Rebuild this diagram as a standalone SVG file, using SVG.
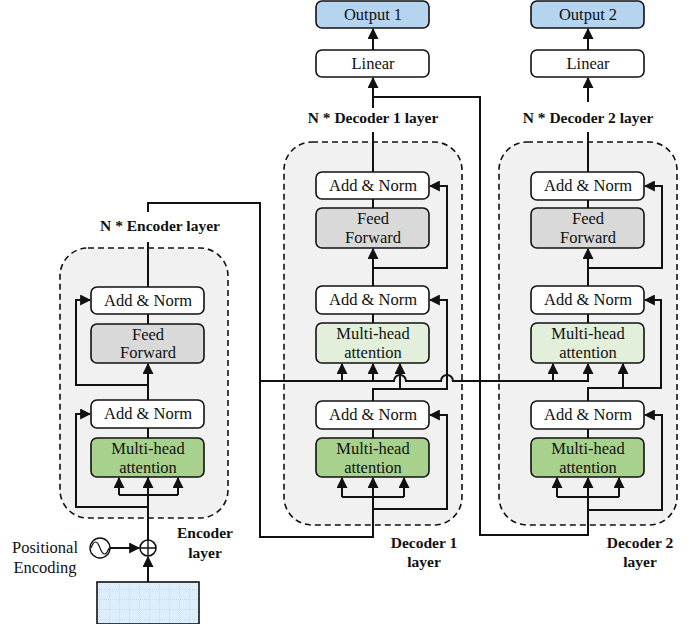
<svg xmlns="http://www.w3.org/2000/svg" width="700" height="624" viewBox="0 0 700 624">
<style>
.t{font-family:"Liberation Serif",serif;font-size:16.5px;fill:#111;text-anchor:middle}
.b{font-weight:bold;font-size:15.5px}
.box{stroke:#111;stroke-width:1.6}
.w{fill:#fff}.g{fill:#d9d9d9}.dg{fill:#a9d18e}.lg{fill:#e2efda}.bl{fill:#b4d4f0}
.dash{fill:#f1f1f1;stroke:#111;stroke-width:1.6;stroke-dasharray:6 4}
.c{fill:none;stroke:#111;stroke-width:2}
.ar{marker-end:url(#a)}
</style>
<defs>
<marker id="a" viewBox="0 0 10 10" refX="9" refY="5" markerWidth="5.5" markerHeight="5.5" orient="auto"><path d="M0,0L10,5L0,10z" fill="#111"/></marker>
<pattern id="grid" width="10" height="10" patternUnits="userSpaceOnUse"><rect width="10" height="10" fill="#ddeefa"/><path d="M10,0V10M0,10H10" stroke="#8fb8d8" stroke-width="0.6" stroke-dasharray="1 1"/></pattern>
</defs>
<rect width="700" height="624" fill="#fff"/>
<g id="containers">
<rect class="dash" x="60" y="248" width="168" height="270" rx="28"/>
<rect class="dash" x="284" y="142" width="178" height="383" rx="28"/>
<rect class="dash" x="499" y="142" width="178" height="383" rx="28"/>
</g>
<g id="connectors">
<path class="c" d="M148,540V477"/>
<path class="c ar" d="M148,582V557"/>
<path class="c ar" d="M110,548H139"/>
<path class="c" d="M119,495H178"/>
<path class="c ar" d="M119,495V478"/><path class="c ar" d="M178,495V478"/><path class="c ar" d="M148,495V478"/>
<path class="c ar" d="M148,507H76V414H90"/>
<path class="c" d="M148,438V428"/><path class="c ar" d="M148,400V364"/>
<path class="c ar" d="M148,385H76V300H90"/>
<path class="c" d="M148,324V314M148,287V242M148,212V203H260V537H373V478"/>
<path class="c" d="M342,497H404"/>
<path class="c ar" d="M342,497V478"/><path class="c ar" d="M404,497V478"/><path class="c ar" d="M373,497V478"/>
<path class="c ar" d="M373,509H447V415H430"/>
<path class="c" d="M373,438V429"/>
<path class="c ar" d="M373,401V389H447V300H430"/>
<path class="c ar" d="M373,389H400V364"/>
<path class="c ar" d="M342,381V364"/><path class="c ar" d="M373,381V364"/>
<path class="c ar" d="M260,381H394a6,6 0 0 1 12,0H441a6,6 0 0 1 12,0H588V364"/>
<path class="c ar" d="M553,381V364"/>
<path class="c" d="M373,323V314"/><path class="c ar" d="M373,286V249"/>
<path class="c ar" d="M373,268H447V186H430"/>
<path class="c" d="M373,208V199M373,172V132"/><path class="c ar" d="M373,108V78"/>
<path class="c ar" d="M373,50V29"/>
<path class="c" d="M373,97H480V535H588V478"/>
<path class="c" d="M557,497H619"/>
<path class="c ar" d="M557,497V478"/><path class="c ar" d="M619,497V478"/><path class="c ar" d="M588,497V478"/>
<path class="c ar" d="M588,510H662V415H645"/>
<path class="c" d="M588,438V429"/>
<path class="c ar" d="M588,401V388H661V300H645"/>
<path class="c ar" d="M588,388H623V364"/>
<path class="c" d="M588,323V314"/><path class="c ar" d="M588,286V249"/>
<path class="c ar" d="M588,268H662V186H645"/>
<path class="c" d="M588,208V200M588,172V132"/><path class="c ar" d="M588,102V78"/>
<path class="c ar" d="M588,50V29"/>
</g>
<g id="encoder">
<rect class="box w" x="91" y="287" width="113" height="27" rx="6"/><text class="t" x="148" y="306">Add &amp; Norm</text>
<rect class="box g" x="91" y="324" width="113" height="39" rx="6"/><text class="t" x="148" y="340">Feed</text><text class="t" x="148" y="358">Forward</text>
<rect class="box w" x="91" y="400" width="113" height="28" rx="6"/><text class="t" x="148" y="419">Add &amp; Norm</text>
<rect class="box dg" x="91" y="438" width="113" height="39" rx="6"/><text class="t" x="148" y="454">Multi-head</text><text class="t" x="148" y="473">attention</text>
<text class="t b" x="160" y="231">N * Encoder layer</text>
<text class="t b" x="205" y="538">Encoder</text><text class="t b" x="205" y="558">layer</text>
</g>
<g id="input">
<circle cx="148" cy="548" r="8" fill="#fff" stroke="#111" stroke-width="1.6"/>
<path d="M140,548H156M148,540V556" stroke="#111" stroke-width="1.4"/>
<circle cx="100" cy="548" r="10" fill="#fff" stroke="#111" stroke-width="1.4"/>
<path d="M91,548c3,-8 6,-8 9,0s6,8 9,0" fill="none" stroke="#111" stroke-width="1.2"/>
<text class="t" x="45" y="553">Positional</text><text class="t" x="45" y="573">Encoding</text>
<rect x="97" y="582" width="102" height="42" fill="url(#grid)" stroke="#111" stroke-width="1.6"/>
</g>
<g id="decoder1">
<rect class="box bl" x="316" y="1" width="113" height="27" rx="6"/><text class="t" x="373" y="20">Output 1</text>
<rect class="box w" x="316" y="50" width="113" height="27" rx="6"/><text class="t" x="373" y="69">Linear</text>
<text class="t b" x="373" y="123">N * Decoder 1 layer</text>
<rect class="box w" x="316" y="172" width="113" height="27" rx="6"/><text class="t" x="373" y="191">Add &amp; Norm</text>
<rect class="box g" x="316" y="208" width="113" height="40" rx="6"/><text class="t" x="373" y="224">Feed</text><text class="t" x="373" y="243">Forward</text>
<rect class="box w" x="316" y="286" width="113" height="28" rx="6"/><text class="t" x="373" y="305">Add &amp; Norm</text>
<rect class="box lg" x="316" y="323" width="113" height="40" rx="6"/><text class="t" x="373" y="339">Multi-head</text><text class="t" x="373" y="358">attention</text>
<rect class="box w" x="316" y="401" width="113" height="28" rx="6"/><text class="t" x="373" y="420">Add &amp; Norm</text>
<rect class="box dg" x="316" y="438" width="113" height="39" rx="6"/><text class="t" x="373" y="454">Multi-head</text><text class="t" x="373" y="473">attention</text>
<text class="t b" x="424" y="548">Decoder 1</text><text class="t b" x="424" y="567">layer</text>
</g>
<g id="decoder2">
<rect class="box bl" x="531" y="1" width="113" height="27" rx="6"/><text class="t" x="588" y="20">Output 2</text>
<rect class="box w" x="531" y="50" width="113" height="27" rx="6"/><text class="t" x="588" y="69">Linear</text>
<text class="t b" x="588" y="123">N * Decoder 2 layer</text>
<rect class="box w" x="531" y="172" width="113" height="28" rx="6"/><text class="t" x="588" y="191">Add &amp; Norm</text>
<rect class="box g" x="531" y="208" width="113" height="40" rx="6"/><text class="t" x="588" y="224">Feed</text><text class="t" x="588" y="243">Forward</text>
<rect class="box w" x="531" y="286" width="113" height="28" rx="6"/><text class="t" x="588" y="305">Add &amp; Norm</text>
<rect class="box lg" x="531" y="323" width="113" height="40" rx="6"/><text class="t" x="588" y="339">Multi-head</text><text class="t" x="588" y="358">attention</text>
<rect class="box w" x="531" y="401" width="113" height="28" rx="6"/><text class="t" x="588" y="420">Add &amp; Norm</text>
<rect class="box dg" x="531" y="438" width="113" height="39" rx="6"/><text class="t" x="588" y="454">Multi-head</text><text class="t" x="588" y="473">attention</text>
<text class="t b" x="640" y="548">Decoder 2</text><text class="t b" x="640" y="567">layer</text>
</g>
</svg>
